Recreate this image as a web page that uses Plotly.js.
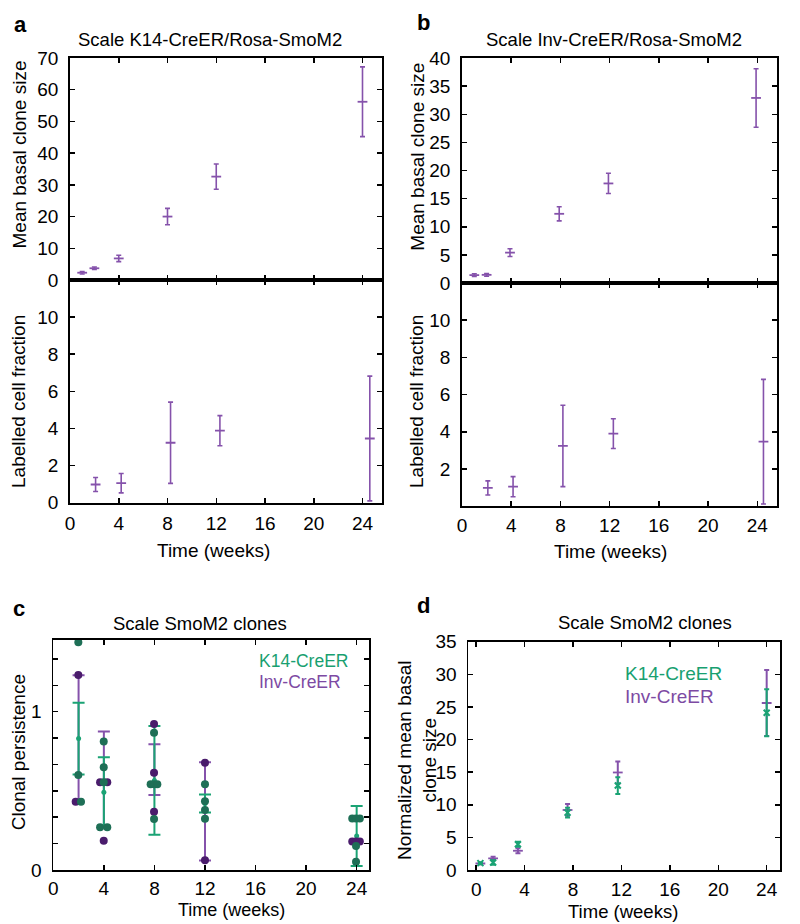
<!DOCTYPE html>
<html>
<head>
<meta charset="utf-8">
<script src="https://cdn.plot.ly/plotly-3.0.1.min.js"></script>
<style>html,body{margin:0;padding:0;background:#fff;}#chart{width:800px;height:924px;}</style>
</head>
<body>
<div id="chart"></div>
<script>
// ---------------- data ----------------
// Panel a (K14-CreER/Rosa-SmoM2)
const weeksA_size = [1, 2, 4, 8, 12, 24];
const sizeA = [2.3, 3.7, 6.8, 20.0, 32.6, 56.2];
const sizeA_err = [0.4, 0.4, 1.0, 2.6, 4.0, 11.0];
const weeksA_frac = [2.1, 4.2, 8.25, 12.3, 24.6];
const fracA = [0.98, 1.05, 3.23, 3.88, 3.46];
const fracA_err = [0.38, 0.52, 2.19, 0.81, 3.36];

// Panel b (Inv-CreER/Rosa-SmoM2)
const weeksB_size = [1, 2, 3.9, 7.9, 11.9, 23.9];
const sizeB = [1.4, 1.45, 5.4, 12.3, 17.7, 32.9];
const sizeB_err = [0.25, 0.25, 0.7, 1.25, 1.8, 5.2];
const weeksB_frac = [2.1, 4.15, 8.2, 12.3, 24.5];
const fracB = [0.98, 1.05, 3.24, 3.9, 3.47];
const fracB_err = [0.38, 0.54, 2.19, 0.8, 3.35];

// Panel c (clonal persistence)
const weeksC = [2, 4, 8, 12, 24];
const persistK14 = [0.83, 0.491, 0.566, 0.42, 0.215];
const persistK14_err = [0.226, 0.221, 0.343, 0.057, 0.19];
const persistInv = [0.83, 0.575, 0.634, 0.37, 0.18];
const persistInv_err = [0.40, 0.30, 0.16, 0.31, 0];
const dotsK14_x = [1.98, 1.98, 2.19, 3.99, 3.99, 3.99, 3.70, 4.27, 7.97, 7.70, 7.97, 8.23, 7.97, 12.0, 12.0, 12.0, 12.0, 23.65, 23.95, 24.25, 23.95, 23.95];
const dotsK14_y = [1.438, 0.60, 0.431, 0.811, 0.649, 0.554, 0.27, 0.27, 0.867, 0.541, 0.541, 0.541, 0.322, 0.541, 0.434, 0.379, 0.324, 0.326, 0.326, 0.326, 0.152, 0.052];
const dotsInv_x = [1.98, 1.77, 3.70, 4.27, 3.99, 7.97, 7.97, 7.97, 12.0, 12.0, 23.65, 23.95, 24.25];
const dotsInv_y = [1.232, 0.431, 0.554, 0.554, 0.185, 0.922, 0.615, 0.368, 0.678, 0.061, 0.18, 0.18, 0.18];

// Panel d (normalized mean basal clone size)
const weeksD = [0.35, 1.4, 3.45, 7.55, 11.7, 24.0];
const normK14 = [1.05, 1.15, 3.95, 8.8, 12.95, 24.1];
const normK14_err = [0.15, 0.35, 0.4, 0.75, 1.28, 3.6];
const normInv = [1.0, 1.78, 2.95, 9.2, 14.95, 25.6];
const normInv_err = [0.1, 0.25, 0.4, 0.9, 1.67, 5.05];

const weekTicks = [0, 4, 8, 12, 16, 20, 24];
const titleA = 'Scale K14-CreER/Rosa-SmoM2';
const titleB = 'Scale Inv-CreER/Rosa-SmoM2';
const titleCD = 'Scale SmoM2 clones';
const seriesNames = ['K14-CreER', 'Inv-CreER'];

// ---------------- style ----------------
const W = 800, H = 924;
const FONT = 'Liberation Sans, Arial, sans-serif';
const PURPLE = '#8552ab';
const PURPLE_DARK = '#4a1c6c';
const GREEN = '#1aa374';
const GREEN_DARK = '#1e6f56';
const PURPLE_TXT = '#7d4aa3';
const GREEN_TXT = '#18a070';

const fx = p => p / W;
const fy = p => 1 - p / H;

function axisBase(extra) {
  return Object.assign({
    showline: true, linecolor: 'black', linewidth: 1.8, mirror: 'ticks',
    ticks: 'inside', ticklen: 5, tickwidth: 1.5, tickcolor: 'black',
    showgrid: false, zeroline: false, automargin: false,
    tickfont: {family: FONT, size: 19, color: 'black'},
    ticklabelstandoff: 4, fixedrange: true
  }, extra);
}

function errTrace(x, y, err, color, xa, ya, marker, thick, capw) {
  return {
    type: 'scatter', mode: 'markers', x: x, y: y, xaxis: xa, yaxis: ya,
    error_y: {type: 'data', array: err, visible: true, color: color, thickness: thick, width: capw},
    marker: marker, showlegend: false, hoverinfo: 'skip'
  };
}
const dashMarker = c => ({symbol: 'line-ew', size: 7, color: c, line: {width: 1.8, color: c}});

const traces = [
  errTrace(weeksA_size, sizeA, sizeA_err, PURPLE, 'x', 'y', dashMarker(PURPLE), 1.6, 2.5),
  errTrace(weeksA_frac, fracA, fracA_err, PURPLE, 'x2', 'y2', dashMarker(PURPLE), 1.6, 2.5),
  errTrace(weeksB_size, sizeB, sizeB_err, PURPLE, 'x3', 'y3', dashMarker(PURPLE), 1.6, 2.5),
  errTrace(weeksB_frac, fracB, fracB_err, PURPLE, 'x4', 'y4', dashMarker(PURPLE), 1.6, 2.5),
  // panel c
  errTrace(weeksC, persistInv, persistInv_err, PURPLE, 'x5', 'y5', {size: 4, color: 'rgba(0,0,0,0)'}, 2, 6),
  errTrace(weeksC, persistK14, persistK14_err, GREEN, 'x5', 'y5', {size: 5, color: GREEN}, 2, 6),
  {type: 'scatter', mode: 'markers', x: dotsInv_x, y: dotsInv_y, xaxis: 'x5', yaxis: 'y5',
   marker: {size: 8, color: PURPLE_DARK}, showlegend: false, hoverinfo: 'skip'},
  {type: 'scatter', mode: 'markers', x: dotsK14_x, y: dotsK14_y, xaxis: 'x5', yaxis: 'y5',
   marker: {size: 8, color: GREEN_DARK}, showlegend: false, hoverinfo: 'skip'},
  // panel d
  errTrace(weeksD, normInv, normInv_err, PURPLE, 'x6', 'y6', dashMarker(PURPLE), 2, 2.5),
  errTrace(weeksD, normK14, normK14_err, GREEN, 'x6', 'y6',
           {symbol: 'x-thin', size: 6, color: GREEN, line: {width: 2, color: GREEN}}, 2, 2.5)
];

const cTickVals = [0, 1, 2, 3, 4, 5, 6, 7, 8].map(k => k / 6);
const cTickText = cTickVals.map((v, i) => i === 0 ? '0' : (i === 6 ? '1' : ''));

const layout = {
  width: W, height: H,
  margin: {l: 0, r: 0, t: 0, b: 0, pad: 0},
  paper_bgcolor: 'white', plot_bgcolor: 'white',
  font: {family: FONT, color: 'black'},
  showlegend: false,
  // a
  xaxis: axisBase({domain: [fx(70), fx(382)], range: [0, 25.6], tickvals: weekTicks, showticklabels: false, anchor: 'y'}),
  yaxis: axisBase({domain: [fy(280), fy(58)], range: [0, 70], tickvals: [0, 10, 20, 30, 40, 50, 60, 70], anchor: 'x', ticklabelstandoff: 6}),
  xaxis2: axisBase({domain: [fx(70), fx(382)], range: [0, 25.6], tickvals: weekTicks, anchor: 'y2', ticklabelstandoff: 3}),
  yaxis2: axisBase({domain: [fy(502.7), fy(280)], range: [0, 12], tickvals: [0, 2, 4, 6, 8, 10], anchor: 'x2', ticklabelstandoff: 6}),
  // b
  xaxis3: axisBase({domain: [fx(462), fx(777)], range: [0, 25.6], tickvals: weekTicks, showticklabels: false, anchor: 'y3'}),
  yaxis3: axisBase({domain: [fy(283), fy(58)], range: [0, 40], tickvals: [0, 5, 10, 15, 20, 25, 30, 35, 40], anchor: 'x3', ticklabelstandoff: 6}),
  xaxis4: axisBase({domain: [fx(462), fx(777)], range: [0, 25.6], tickvals: weekTicks, anchor: 'y4', ticklabelstandoff: 1}),
  yaxis4: axisBase({domain: [fy(506.2), fy(283)], range: [0, 12], tickvals: [2, 4, 6, 8, 10], anchor: 'x4', ticklabelstandoff: 6}),
  // c
  xaxis5: axisBase({domain: [fx(53.3), fx(369.3)], range: [0, 25], tickvals: weekTicks, anchor: 'y5', ticklabelstandoff: 0}),
  yaxis5: axisBase({domain: [fy(870), fy(640)], range: [0, 1.453], tickvals: cTickVals, ticktext: cTickText, anchor: 'x5', ticklabelstandoff: 6}),
  // d
  xaxis6: axisBase({domain: [fx(468.3), fx(780)], range: [-0.65, 25.1], tickvals: weekTicks, anchor: 'y6', ticklabelstandoff: 1}),
  yaxis6: axisBase({domain: [fy(870), fy(641.7)], range: [0, 35], tickvals: [0, 5, 10, 15, 20, 25, 30, 35], anchor: 'x6', ticklabelstandoff: 6}),
  annotations: []
};

function ann(text, x, y, opts) {
  layout.annotations.push(Object.assign({
    text: text, x: fx(x), y: fy(y), xref: 'paper', yref: 'paper',
    xanchor: 'center', yanchor: 'middle', showarrow: false, borderpad: 0,
    font: {family: FONT, size: 19, color: 'black'}
  }, opts || {}));
}
const letterFont = {family: FONT, size: 22, color: 'black'};
ann('<b>a</b>', 20, 24, {font: letterFont});
ann('<b>b</b>', 423, 22, {font: letterFont});
ann('<b>c</b>', 19, 608, {font: letterFont});
ann('<b>d</b>', 423, 605, {font: letterFont});
ann(titleA, 210, 40, {font: {family: FONT, size: 18.5, color: 'black'}});
ann(titleB, 614, 40, {font: {family: FONT, size: 18.5, color: 'black'}});
ann(titleCD, 199.5, 623, {font: {family: FONT, size: 18.5, color: 'black'}});
ann(titleCD, 645, 622, {font: {family: FONT, size: 18.5, color: 'black'}});
ann('Mean basal clone size', 18.5, 155, {textangle: -90});
ann('Labelled cell fraction', 18, 402, {textangle: -90});
ann('Mean basal clone size', 416.7, 157, {textangle: -90});
ann('Labelled cell fraction', 416, 402, {textangle: -90});
ann('Time (weeks)', 213, 550);
ann('Time (weeks)', 610, 551);
ann('Clonal persistence', 18.3, 752, {textangle: -90});
ann('Time (weeks)', 231, 910, {font: {family: FONT, size: 18, color: 'black'}});
ann('Normalized mean basal<br>clone size', 417, 760, {textangle: -90});
ann('Time (weeks)', 622.5, 911, {font: {family: FONT, size: 18.5, color: 'black'}});
ann(seriesNames[0], 258, 661, {xanchor: 'left', font: {family: FONT, size: 17.5, color: GREEN_TXT}});
ann(seriesNames[1], 258, 682, {xanchor: 'left', font: {family: FONT, size: 17.5, color: PURPLE_TXT}});
ann(seriesNames[0], 624, 673, {xanchor: 'left', font: {family: FONT, size: 19, color: GREEN_TXT}});
ann(seriesNames[1], 624, 696, {xanchor: 'left', font: {family: FONT, size: 19, color: PURPLE_TXT}});

Plotly.newPlot('chart', traces, layout, {staticPlot: true, displayModeBar: false});
</script>
</body>
</html>
